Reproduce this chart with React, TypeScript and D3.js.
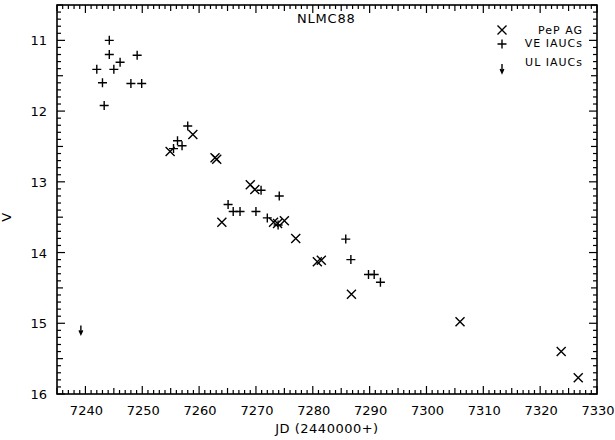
import React from "react";
import * as d3 from "d3";

const title = "NLMC88";
const xLabel = "JD (2440000+)";
const yLabel = "V";
const xTickLabels = [7240, 7250, 7260, 7270, 7280, 7290, 7300, 7310, 7320, 7330];
const yTickLabels = [11, 12, 13, 14, 15, 16];

const pepJD = [7254.9, 7258.9, 7262.8, 7263.1, 7264.0, 7269.0, 7269.8, 7273.1, 7273.8, 7275.0, 7277.0, 7280.8, 7281.5, 7286.8, 7305.9, 7323.7, 7326.7];
const pepV = [12.57, 12.33, 12.66, 12.68, 13.57, 13.04, 13.11, 13.57, 13.59, 13.55, 13.8, 14.13, 14.11, 14.59, 14.98, 15.4, 15.77];

const veJD = [7244.2, 7244.2, 7249.1, 7246.1, 7242.0, 7245.0, 7243.0, 7248.0, 7249.9, 7243.3, 7258.0, 7256.2, 7257.0, 7255.5, 7270.9, 7274.1, 7265.1, 7266.0, 7267.2, 7270.0, 7272.0, 7273.9, 7285.8, 7286.7, 7289.8, 7290.8, 7291.9];
const veV = [11.0, 11.2, 11.21, 11.31, 11.41, 11.41, 11.6, 11.61, 11.61, 11.92, 12.21, 12.42, 12.49, 12.53, 13.12, 13.2, 13.32, 13.42, 13.42, 13.42, 13.51, 13.61, 13.81, 14.1, 14.31, 14.31, 14.42];

const ulJD = [7239.2];
const ulV = [15.03];

const legendLabels = ["PeP AG", "VE IAUCs", "UL IAUCs"];

const W = 615, H = 440;
const L = 57, R = 597, T = 5, B = 394;
const FONT = "'DejaVu Sans', sans-serif";

export default function App() {
  const x = d3.scaleLinear().domain([7235, 7330]).range([L, R]);
  const y = d3.scaleLinear().domain([10.5, 16]).range([T, B]);

  const xt = d3.range(7235, 7331, 1);
  const yt = d3.range(105, 161, 1).map((v) => v / 10);

  const xLen = (v: number) => (v % 10 === 0 ? 8 : v % 5 === 0 ? 6 : 4);
  const yLen = (v: number) => {
    const k = Math.round(v * 10);
    return k % 10 === 0 ? 8 : k % 5 === 0 ? 6 : 4;
  };

  const cross = (cx: number, cy: number, s: number) =>
    `M${cx - s},${cy - s}L${cx + s},${cy + s}M${cx - s},${cy + s}L${cx + s},${cy - s}`;
  const plus = (cx: number, cy: number, s: number) =>
    `M${cx - s},${cy}L${cx + s},${cy}M${cx},${cy - s}L${cx},${cy + s}`;
  const arrow = (cx: number, cy: number) =>
    `M${cx},${cy}L${cx},${cy + 8}M${cx - 1.8},${cy + 5}L${cx},${cy + 9}L${cx + 1.8},${cy + 5}`;

  const legY = [30, 44, 64];
  const legX = 502;

  return (
    <svg width={W} height={H} style={{ position: "absolute", left: 0, top: 0, background: "#fff" }}>
      <rect x={0} y={0} width={W} height={H} fill="#fff" />
      <g stroke="#000" strokeWidth={1.2}>
        {xt.map((v) => (
          <g key={"xt" + v}>
            <line x1={x(v)} x2={x(v)} y1={B} y2={B - xLen(v)} />
            <line x1={x(v)} x2={x(v)} y1={T} y2={T + xLen(v)} />
          </g>
        ))}
        {yt.map((v) => (
          <g key={"yt" + v}>
            <line x1={L} x2={L + yLen(v)} y1={y(v)} y2={y(v)} />
            <line x1={R} x2={R - yLen(v)} y1={y(v)} y2={y(v)} />
          </g>
        ))}
      </g>
      <rect x={L} y={T} width={R - L} height={B - T} fill="none" stroke="#000" strokeWidth={1.6} />

      <g fontFamily={FONT} fontSize={13} fill="#000">
        {xTickLabels.map((v) => (
          <text key={"xl" + v} x={x(v) + 1} y={415} textAnchor="middle">{v}</text>
        ))}
        {yTickLabels.map((v) => (
          <text key={"yl" + v} x={47} y={y(v) + 5} textAnchor="end">{v}</text>
        ))}
        <text x={327} y={433} textAnchor="middle" letterSpacing={0.5}>{xLabel}</text>
        <text transform={`translate(11,${y(13.5)}) rotate(-90)`} textAnchor="middle">{yLabel}</text>
        <text x={297} y={23} fontSize={13} letterSpacing={0.8}>{title}</text>
      </g>

      <g stroke="#000" strokeWidth={1.4} fill="none">
        {pepJD.map((d, i) => (
          <path key={"p" + i} d={cross(x(d), y(pepV[i]), 4.5)} />
        ))}
        {veJD.map((d, i) => (
          <path key={"v" + i} d={plus(x(d), y(veV[i]), 4.5)} />
        ))}
        {ulJD.map((d, i) => (
          <path key={"u" + i} d={arrow(x(d), y(ulV[i]))} />
        ))}
        <path d={cross(legX, legY[0], 4.5)} />
        <path d={plus(legX, legY[1], 4.5)} />
        <path d={arrow(legX, legY[2])} />
      </g>

      <g fontFamily={FONT} fontSize={11} fill="#000" textAnchor="end" letterSpacing={1}>
        {legendLabels.map((t, i) => (
          <text key={"lg" + i} x={583} y={[34, 47, 66][i]}>{t}</text>
        ))}
      </g>
    </svg>
  );
}
